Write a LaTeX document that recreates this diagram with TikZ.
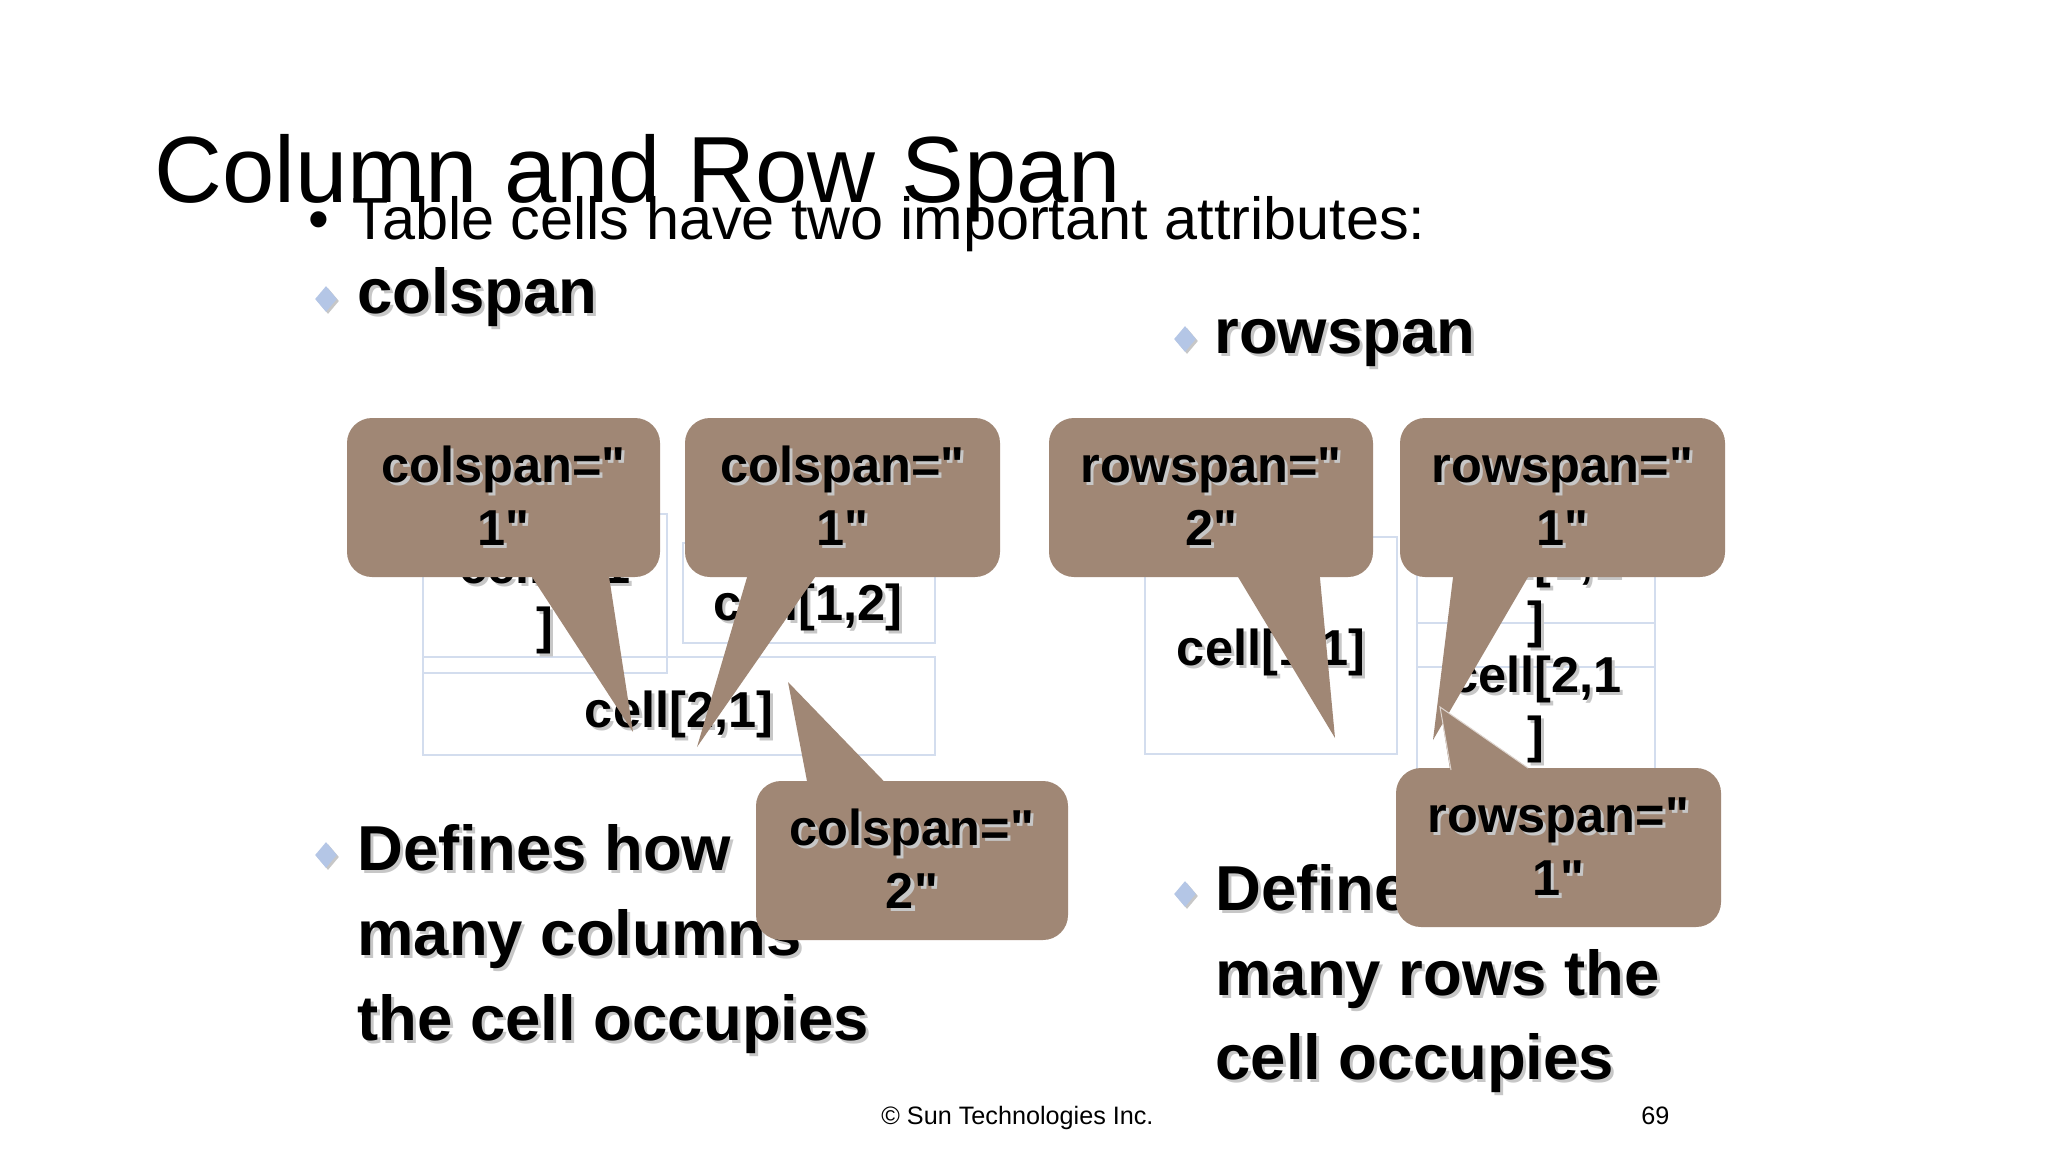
\documentclass[tikz,border=0pt]{standalone}
\usepackage{fontspec}
\setmainfont{Liberation Sans}[Ligatures=TeXOff]
\usetikzlibrary{shapes.geometric}
\definecolor{callbrown}{RGB}{160,135,117}
\definecolor{gridblue}{RGB}{211,221,238}
\definecolor{diacol}{RGB}{180,198,230}
\newcommand\dq{\char"22\relax}
\newcommand\shtext[4]{%
  \node[#1, text=black!22] (#2s) at ([shift={(3,3)}]#3) {#4};
  \node[#1] (#2) at (#3) {#4};}
\newcommand\diabul[2]{%
  \node[diabox, fill=black!22] (#1s) at ([shift={(2,2)}]#2) {};
  \node[diabox] (#1) at (#2) {};}
\tikzset{
  titletxt/.style={font=\fontsize{47}{56}\selectfont, inner sep=0pt, anchor=base west},
  subtxt/.style={font=\fontsize{29.7}{35}\selectfont, inner sep=0pt, anchor=base west},
  bodytxt/.style={font=\bfseries\fontsize{31.75}{38}\selectfont, inner sep=0pt, anchor=base west},
  celltxt/.style={font=\bfseries\fontsize{25.25}{30}\selectfont, inner sep=0pt, anchor=base},
  foottxt/.style={font=\fontsize{12.6}{15}\selectfont, inner sep=0pt, anchor=base west},
  cellline/.style={draw=gridblue, line width=1.25pt},
  callbox/.style={fill=callbrown, rounded corners=12.5pt, inner sep=0pt, minimum height=79.5pt},
  callptr/.style={fill=callbrown},
  diabox/.style={diamond, fill=diacol, minimum width=11pt, minimum height=13pt, inner sep=0pt}
}
\begin{document}
\begin{tikzpicture}[x=0.5pt,y=-0.5pt]
\useasboundingbox (0,0) rectangle (2048,1152);
\fill[white] (0,0) rectangle (2048,1152);

% title and first bullet
\node[titletxt] (title) at (154,202) {Column and Row Span};
\node[subtxt, anchor=base] (bul) at (319,239) {•};
\node[subtxt] (intro) at (352,239) {Table cells have two important attributes:};

% headings
\diabul{dcol}{326,299}
\shtext{bodytxt}{hcol}{357,313}{colspan}
\diabul{drow}{1185,339}
\shtext{bodytxt}{hrow}{1214,353}{rowspan}

% body texts
\diabul{dl}{326,855}
\shtext{bodytxt}{la}{357,870}{Defines how}
\shtext{bodytxt}{lb}{357,955}{many columns}
\shtext{bodytxt}{lc}{357,1040}{the cell occupies}
\diabul{dr}{1185,894}
\shtext{bodytxt}{ra}{1215,910}{Defines how}
\shtext{bodytxt}{rb}{1215,995}{many rows the}
\shtext{bodytxt}{rc}{1215,1079}{cell occupies}

% colspan table
\draw[cellline] (423,514) rectangle (667,673);
\draw[cellline] (683,543) rectangle (935,643);
\draw[cellline] (423,657) rectangle (935,755);
\shtext{celltxt}{t11a}{545,583}{cell[1,1}
\shtext{celltxt}{t11b}{545,643}{]}
\shtext{celltxt}{t12}{808,620}{cell[1,2]}
\shtext{celltxt}{t21}{679,727}{cell[2,1]}

% rowspan table
\draw[cellline] (1145,537) rectangle (1397,754);
\draw[cellline] (1417,537) rectangle (1655,667);
\draw[cellline] (1417,623) rectangle (1655,790);
\shtext{celltxt}{r11}{1271,665}{cell[1,1]}
\shtext{celltxt}{r12a}{1536,577}{cell[1,2}
\shtext{celltxt}{r12b}{1536,637}{]}
\shtext{celltxt}{r21a}{1536,692}{cell[2,1}
\shtext{celltxt}{r21b}{1536,752}{]}

% callout A
\node[callbox, minimum width=156.5pt] (ca) at (503.5,497.5) {};
\coordinate (tipA) at (633,732);
\fill[callptr] (519,557) -- (tipA) -- (606,557) -- cycle;
\shtext{celltxt}{ca1}{503.5,482}{colspan=\dq}
\shtext{celltxt}{ca2}{503.5,545}{1\dq}

% callout B
\node[callbox, minimum width=157.5pt] (cb) at (842.5,497.5) {};
\coordinate (tipB) at (697,747);
\fill[callptr] (753,557) -- (tipB) -- (829,557) -- cycle;
\shtext{celltxt}{cb1}{842.5,482}{colspan=\dq}
\shtext{celltxt}{cb2}{842.5,545}{1\dq}

% callout C
\node[callbox, minimum width=156pt] (cc) at (912,860.5) {};
\coordinate (tipC) at (788,682);
\fill[callptr] (811,802) -- (tipC) -- (904,802) -- cycle;
\shtext{celltxt}{cc1}{912,845}{colspan=\dq}
\shtext{celltxt}{cc2}{912,908}{2\dq}

% callout D
\node[callbox, minimum width=162pt] (cd) at (1211,497.5) {};
\coordinate (tipD) at (1335,738);
\fill[callptr] (1226,557) -- (tipD) -- (1318,557) -- cycle;
\shtext{celltxt}{cd1}{1211,482}{rowspan=\dq}
\shtext{celltxt}{cd2}{1211,545}{2\dq}

% callout E
\node[callbox, minimum width=162.5pt] (ce) at (1562.5,497.5) {};
\coordinate (tipE) at (1433,740);
\fill[callptr] (1455.5,557) -- (tipE) -- (1539.7,557) -- cycle;
\shtext{celltxt}{ce1}{1562.5,482}{rowspan=\dq}
\shtext{celltxt}{ce2}{1562.5,545}{1\dq}

% callout F
\node[callbox, minimum width=162.5pt] (cf) at (1558.5,847.5) {};
\coordinate (tipF) at (1440,707);
\fill[callptr] (1453,788) -- (tipF) -- (1557,788) -- cycle;
\draw[callbrown!35!white, line width=0.5pt] (1451,770) -- (tipF) -- (1528,768);
\shtext{celltxt}{cf1}{1558.5,832}{rowspan=\dq}
\shtext{celltxt}{cf2}{1558.5,895}{1\dq}

% footer
\node[foottxt] (foot) at (881,1124) {© Sun Technologies Inc.};
\node[foottxt] (pnum) at (1641,1124) {69};
\end{tikzpicture}
\end{document}
